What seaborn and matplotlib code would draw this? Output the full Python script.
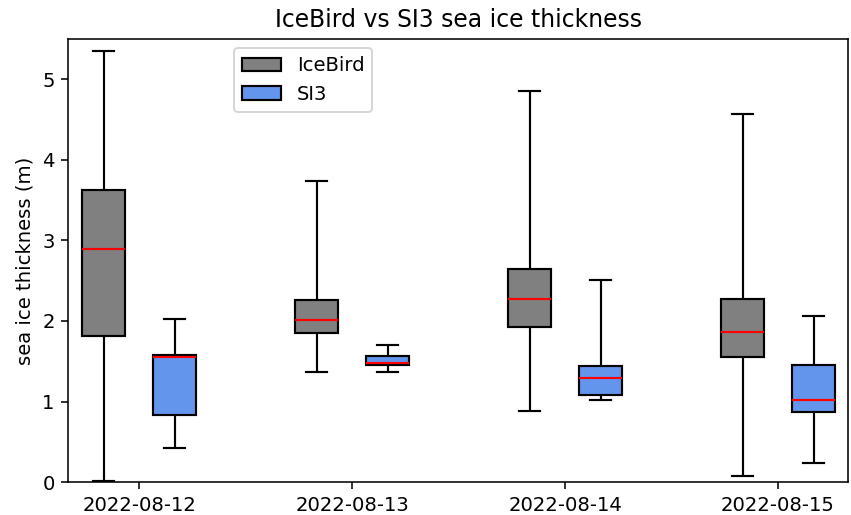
import matplotlib
matplotlib.use("Agg")
import matplotlib.pyplot as plt
import pandas as pd
import seaborn as sns

# Survey dates
dates = ["2022-08-12", "2022-08-13", "2022-08-14", "2022-08-15"]

# Five-number summaries per date: [min, Q1, median, Q3, max] in metres
icebird_stats = [
    [0.02, 1.81, 2.89, 3.62, 5.35],
    [1.37, 1.85, 2.01, 2.26, 3.73],
    [0.88, 1.93, 2.27, 2.64, 4.85],
    [0.08, 1.55, 1.86, 2.27, 4.56],
]
si3_stats = [
    [0.43, 0.84, 1.55, 1.58, 2.03],
    [1.37, 1.46, 1.48, 1.56, 1.70],
    [1.02, 1.08, 1.29, 1.44, 2.51],
    [0.24, 0.87, 1.02, 1.45, 2.06],
]

series_names = ["IceBird", "SI3"]
series_colors = {"IceBird": "grey", "SI3": "cornflowerblue"}

rows = []
for name, stats in zip(series_names, [icebird_stats, si3_stats]):
    for d, vals in zip(dates, stats):
        for v in vals:
            rows.append({"date": d, "source": name, "thickness": v})
df = pd.DataFrame(rows)

fig, ax = plt.subplots(figsize=(851 / 141, 515 / 141), dpi=141)
fig.subplots_adjust(left=0.0803, right=0.9968, top=0.9249, bottom=0.0635)

sns.boxplot(
    data=df, x="date", y="thickness", hue="source", order=dates,
    hue_order=series_names, palette=series_colors, saturation=1,
    width=0.667, gap=0.40, whis=(0, 100), showfliers=False,
    linecolor="black", linewidth=1.1,
    medianprops={"color": "red", "linewidth": 1.1},
    ax=ax,
)

ax.set_xlim(-0.333, 3.33)
ax.set_ylim(0, 5.5)
ax.set_xlabel("")
ax.set_ylabel("sea ice thickness (m)")
ax.set_title("IceBird vs SI3 sea ice thickness")
ax.legend(loc="upper left", bbox_to_anchor=(0.2, 1.0), title=None)

fig.savefig("out.png", dpi=141)
